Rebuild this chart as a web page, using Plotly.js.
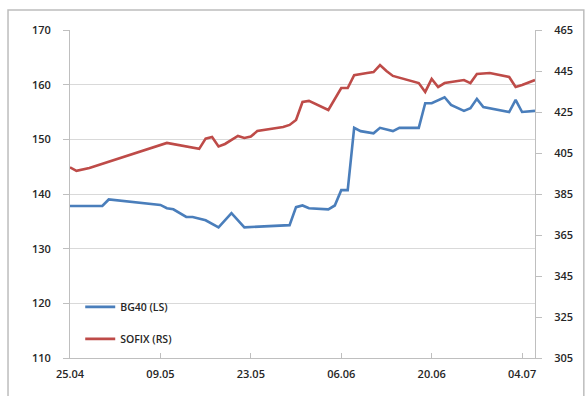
<!DOCTYPE html>
<html>
<head>
<meta charset="utf-8">
<script src="https://cdn.plot.ly/plotly-3.0.1.min.js"></script>
<style>
html,body{margin:0;padding:0;background:#fff;}
#chart{width:586px;height:396px;}
</style>
</head>
<body>
<div id="chart"></div>
<script>
// BG40 (left scale)
var bg40Dates = ["2013-04-25","2013-04-29","2013-04-30","2013-05-01","2013-05-09","2013-05-10","2013-05-11","2013-05-13","2013-05-14","2013-05-16","2013-05-18","2013-05-20","2013-05-22","2013-05-29","2013-05-30","2013-05-31","2013-06-01","2013-06-04","2013-06-05","2013-06-06","2013-06-07","2013-06-08","2013-06-09","2013-06-11","2013-06-12","2013-06-14","2013-06-15","2013-06-18","2013-06-19","2013-06-20","2013-06-22","2013-06-23","2013-06-25","2013-06-26","2013-06-27","2013-06-28","2013-06-30","2013-07-02","2013-07-03","2013-07-04","2013-07-06"];
var bg40Values = [137.8,137.8,137.8,139.0,138.0,137.4,137.2,135.8,135.8,135.2,133.9,136.5,133.9,134.3,137.6,137.9,137.4,137.2,137.9,140.7,140.7,152.1,151.5,151.1,152.1,151.5,152.1,152.1,156.6,156.6,157.7,156.3,155.2,155.7,157.4,155.9,155.4,155.0,157.2,155.0,155.2];

// SOFIX (right scale)
var sofixDates = ["2013-04-25","2013-04-26","2013-04-28","2013-05-10","2013-05-15","2013-05-16","2013-05-17","2013-05-18","2013-05-19","2013-05-21","2013-05-22","2013-05-23","2013-05-24","2013-05-26","2013-05-28","2013-05-29","2013-05-30","2013-05-31","2013-06-01","2013-06-04","2013-06-06","2013-06-07","2013-06-08","2013-06-10","2013-06-11","2013-06-12","2013-06-13","2013-06-14","2013-06-17","2013-06-18","2013-06-19","2013-06-20","2013-06-21","2013-06-22","2013-06-25","2013-06-26","2013-06-27","2013-06-29","2013-07-02","2013-07-03","2013-07-04","2013-07-05","2013-07-06"];
var sofixValues = [398.0,396.3,397.7,409.9,407.0,412.0,412.8,408.2,409.4,413.3,412.3,413.0,415.7,416.7,417.7,418.7,421.1,429.9,430.4,426.0,436.7,436.7,443.0,444.0,444.5,447.9,445.0,442.6,440.1,439.1,434.8,441.1,437.2,439.1,440.6,439.1,443.5,444.0,442.1,437.2,438.2,439.6,440.6];

var xTickVals = ["2013-04-25","2013-05-09","2013-05-23","2013-06-06","2013-06-20","2013-07-04"];
var xTickText = ["25.04","09.05","23.05","06.06","20.06","04.07"];
var seriesNames = ["BG40 (LS)","SOFIX (RS)"];

var tickFont = {family:"Open Sans, Liberation Sans, Arial, sans-serif", size:11, color:"#262626", weight:600};

var traces = [
  {x:bg40Dates, y:bg40Values, name:seriesNames[0], type:"scatter", mode:"lines",
   line:{color:"#4a7ebb", width:2.6}, yaxis:"y", legendgroup:"a"},
  {x:sofixDates, y:sofixValues, name:seriesNames[1], type:"scatter", mode:"lines",
   line:{color:"#be4b48", width:2.6}, yaxis:"y2", legendgroup:"b"}
];

var layout = {
  width:586, height:396,
  margin:{l:70, r:51, t:30, b:38},
  paper_bgcolor:"#ffffff", plot_bgcolor:"#ffffff",
  showlegend:true,
  legend:{x:0.022, y:0.2, xanchor:"left", yanchor:"top", bgcolor:"rgba(0,0,0,0)",
          traceorder:"grouped", tracegroupgap:13,
          font:{family:"Open Sans, Liberation Sans, Arial, sans-serif", size:10.5, color:"#262626", weight:600}},
  xaxis:{type:"date", range:["2013-04-25","2013-07-06"], tickmode:"array",
         tickvals:xTickVals, ticktext:xTickText, showgrid:false, zeroline:false,
         showline:true, linecolor:"#bfbfbf", linewidth:1,
         ticks:"inside", ticklen:5, tickcolor:"#bfbfbf",
         ticklabelstandoff:6, tickfont:tickFont, fixedrange:true},
  yaxis:{range:[110,170], dtick:10, tick0:110, showgrid:true, gridcolor:"#d9d9d9", gridwidth:1,
         zeroline:false, showline:true, linecolor:"#bfbfbf", linewidth:1,
         ticks:"outside", ticklen:6, tickcolor:"#bfbfbf",
         ticklabelstandoff:10, tickfont:tickFont},
  yaxis2:{range:[305,465], dtick:20, tick0:305, overlaying:"y", side:"right", showgrid:false,
          zeroline:false, showline:true, linecolor:"#bfbfbf", linewidth:1,
          ticks:"outside", ticklen:6, tickcolor:"#bfbfbf",
          ticklabelstandoff:10, tickfont:tickFont},
  shapes:[{type:"rect", xref:"paper", yref:"paper", x0:-0.1333, x1:1.105, y0:-0.2, y1:1.061,
           line:{color:"#bdbdbd", width:1.5}, fillcolor:"rgba(0,0,0,0)", layer:"below"}]
};

Plotly.newPlot("chart", traces, layout, {displayModeBar:false, staticPlot:true});
</script>
</body>
</html>
